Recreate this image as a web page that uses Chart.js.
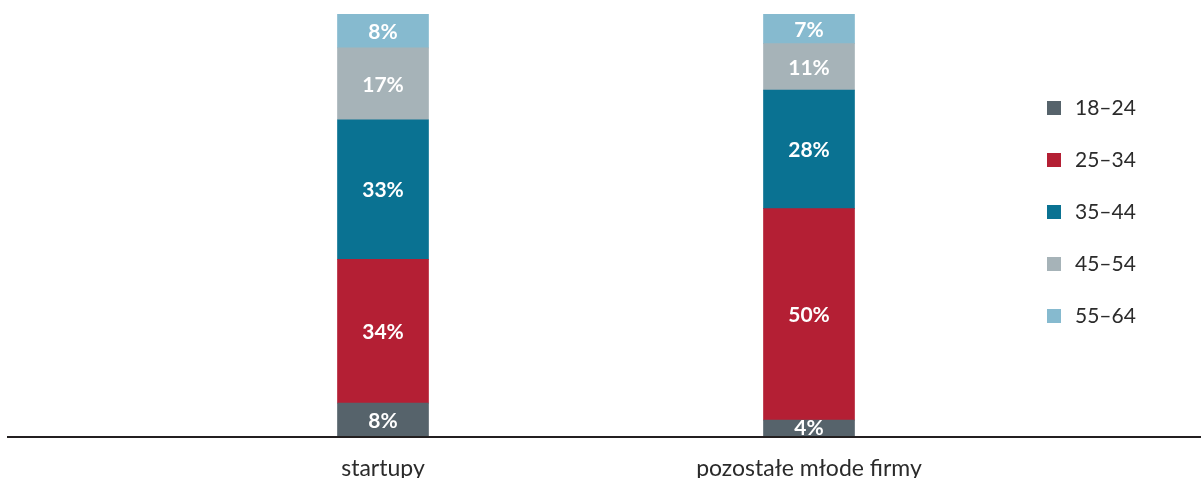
<!DOCTYPE html>
<html>
<head>
<meta charset="utf-8">
<script src="https://cdn.jsdelivr.net/npm/chart.js@4"></script>
<style>
  html, body { margin: 0; padding: 0; background: #fff; }
  #wrap { width: 1201px; height: 478px; }
</style>
</head>
<body>
<div id="wrap"><canvas id="myChart"></canvas></div>
<script>
// dane (%)
const kategorie = ['startupy', 'pozostałe młode firmy'];
const grupyWieku = ['18–24', '25–34', '35–44', '45–54', '55–64'];
const w18_24 = [8, 4];
const w25_34 = [34, 50];
const w35_44 = [33, 28];
const w45_54 = [17, 11];
const w55_64 = [8, 7];
const kolory = ['#56636b', '#b41f34', '#0a7292', '#a6b3b8', '#86bacf'];

const serie = [w18_24, w25_34, w35_44, w45_54, w55_64];

// etykiety wartości w środku segmentów
const etykietyWartosci = {
    id: 'etykietyWartosci',
    afterDatasetsDraw(chart) {
        const c = chart.ctx;
        c.save();
        c.font = 'bold 21px Lato';
        c.fillStyle = '#fff';
        c.textAlign = 'center';
        c.textBaseline = 'middle';
        chart.data.datasets.forEach((ds, i) => {
            chart.getDatasetMeta(i).data.forEach((el, j) => {
                const y = Math.min((el.y + el.base) / 2 + 1, el.base - 9);
                c.fillText(ds.data[j] + '%', el.x, y);
            });
        });
        c.restore();
    }
};

// linia osi na całą szerokość
const liniaOsi = {
    id: 'liniaOsi',
    afterDatasetsDraw(chart) {
        const c = chart.ctx;
        const y = chart.scales.y.getPixelForValue(0);
        c.save();
        c.strokeStyle = '#231f20';
        c.lineWidth = 2;
        c.beginPath();
        c.moveTo(7, y);
        c.lineTo(chart.width, y);
        c.stroke();
        c.restore();
    }
};

// legenda po prawej
const legendaPrawa = {
    id: 'legendaPrawa',
    afterDraw(chart) {
        const c = chart.ctx;
        c.save();
        c.font = '21px Lato';
        c.textBaseline = 'middle';
        chart.data.datasets.forEach((ds, i) => {
            const y = 108 + i * 52;
            c.fillStyle = ds.backgroundColor;
            c.fillRect(1047, y - 7, 14, 14);
            c.fillStyle = '#2b2b2b';
            c.fillText(ds.label, 1075, y);
        });
        c.restore();
    }
};

const ctx = document.getElementById('myChart');
new Chart(ctx, {
    type: 'bar',
    data: {
        labels: kategorie,
        datasets: grupyWieku.map((g, i) => ({
            label: g,
            data: serie[i],
            backgroundColor: kolory[i],
            borderWidth: 0,
            barThickness: 91
        }))
    },
    options: {
        responsive: true,
        maintainAspectRatio: false,
        animation: false,
        layout: {
            padding: { top: 14, left: 170, right: 179, bottom: 0 }
        },
        scales: {
            x: {
                stacked: true,
                grid: { display: false, drawTicks: false },
                border: { display: false },
                ticks: {
                    padding: 18,
                    color: '#2b2b2b',
                    font: { family: 'Lato', size: 23 }
                },
                afterFit(scale) { scale.height = 41; }
            },
            y: {
                stacked: true,
                display: false,
                min: 0,
                max: 100
            }
        },
        plugins: {
            legend: { display: false },
            tooltip: { enabled: false }
        }
    },
    plugins: [etykietyWartosci, liniaOsi, legendaPrawa]
});
</script>
</body>
</html>
